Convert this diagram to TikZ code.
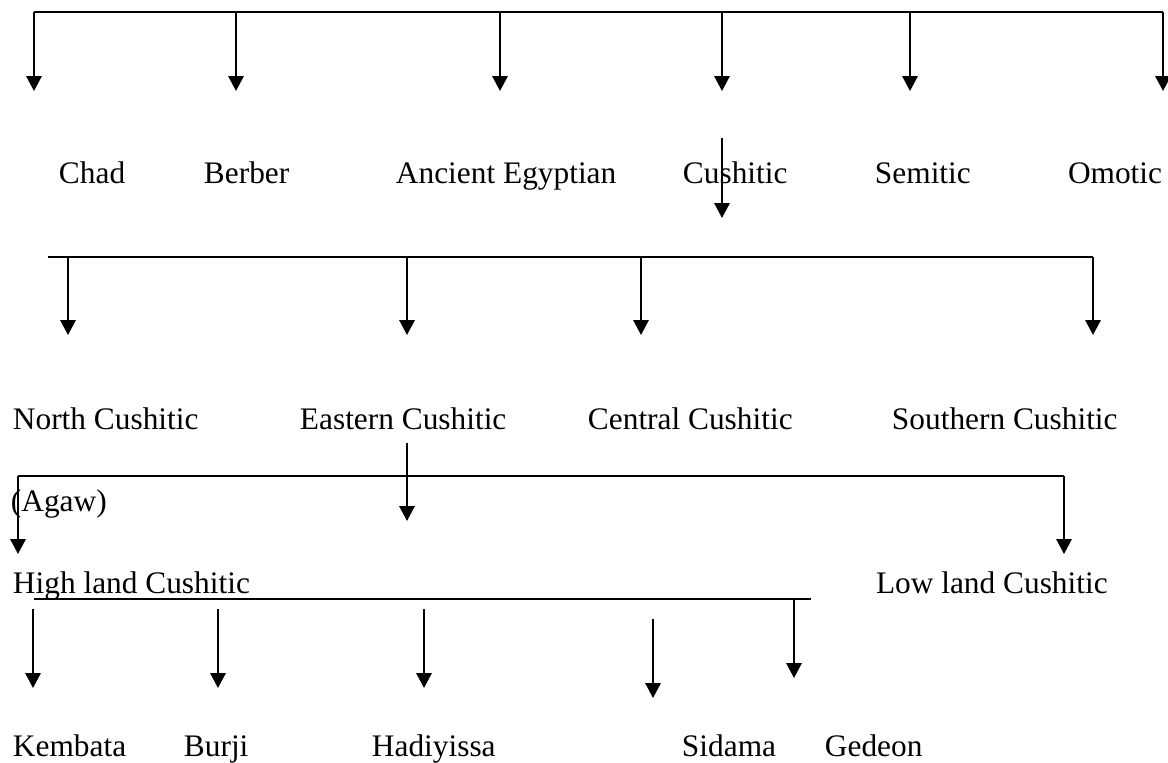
\documentclass[tikz,border=0pt]{standalone}
\usepackage{fontspec}
\setmainfont{Liberation Serif}
\usetikzlibrary{arrows.meta}

\begin{document}
\begin{tikzpicture}[x=0.025cm, y=-0.025cm, line width=1.4pt,
  lbl/.style={anchor=base west, inner sep=0pt, font=\fontsize{22.3}{26}\selectfont},
  arr/.style={-{Triangle[length=0.37cm,width=0.38cm]}}]
\useasboundingbox (0,0) rectangle (1168,762);

% first level
\node[lbl] (chad) at (58,183) {Chad};
\node[lbl] (berber) at (203,183) {Berber};
\node[lbl] (egypt) at (395,183) {Ancient Egyptian};
\node[lbl] (cush) at (682,183) {Cushitic};
\node[lbl] (semit) at (874,183) {Semitic};
\node[lbl] (omot) at (1067,183) {Omotic};

\coordinate (bar1w) at (34,12);
\coordinate (bar1e) at (1163,12);
\draw (bar1w) -- (bar1e);
\coordinate (chad-in) at (34,91);
\coordinate (berber-in) at (236,91);
\coordinate (egypt-in) at (500,91);
\coordinate (cush-in) at (722,91);
\coordinate (semit-in) at (910,91);
\coordinate (omot-in) at (1163,91);
\foreach \n in {chad,berber,egypt,cush,semit,omot}
  \draw[arr] (\n-in |- bar1w) -- (\n-in);

% cushitic branches
\coordinate (cush-out) at (722,138);
\coordinate (cush-down) at (722,218);
\draw[arr] (cush-out) -- (cush-down);

\node[lbl] (north) at (12,429) {North Cushitic};
\node[lbl] (agaw) at (10,511) {(Agaw)};
\node[lbl] (east) at (299,429) {Eastern Cushitic};
\node[lbl] (central) at (587,429) {Central Cushitic};
\node[lbl] (south) at (891,429) {Southern Cushitic};

\coordinate (bar2w) at (48,257);
\coordinate (bar2e) at (1093,257);
\draw (bar2w) -- (bar2e);
\coordinate (north-in) at (68,335);
\coordinate (east-in) at (407,335);
\coordinate (central-in) at (641,335);
\coordinate (south-in) at (1093,335);
\foreach \n in {north,east,central,south}
  \draw[arr] (\n-in |- bar2w) -- (\n-in);

% eastern cushitic
\coordinate (east-out) at (407,443);
\coordinate (east-down) at (407,521);
\draw[arr] (east-out) -- (east-down);

\node[lbl] (high) at (12,593) {High land Cushitic};
\node[lbl] (low) at (875,593) {Low land Cushitic};

\coordinate (bar3w) at (18,476);
\coordinate (bar3e) at (1064,476);
\draw (bar3w) -- (bar3e);
\coordinate (high-in) at (18,554);
\coordinate (low-in) at (1064,554);
\draw[arr] (bar3w) -- (high-in);
\draw[arr] (bar3e) -- (low-in);

% highland cushitic
\node[lbl] (kemb) at (12,756) {Kembata};
\node[lbl] (burji) at (183,756) {Burji};
\node[lbl] (hadi) at (371,756) {Hadiyissa};
\node[lbl] (sidama) at (681,756) {Sidama};
\node[lbl] (gede) at (824,756) {Gedeon};

\coordinate (bar4w) at (34,599);
\coordinate (bar4e) at (811,599);
\draw (bar4w) -- (bar4e);
\draw[arr] (33,609) coordinate (kemb-out) -- (33,688) coordinate (kemb-in);
\draw[arr] (218,609) coordinate (burji-out) -- (218,688) coordinate (burji-in);
\draw[arr] (424,609) coordinate (hadi-out) -- (424,688) coordinate (hadi-in);
\draw[arr] (653,619) coordinate (sidama-out) -- (653,698) coordinate (sidama-in);
\coordinate (gede-in) at (794,678);
\draw[arr] (gede-in |- bar4w) -- (gede-in);
\end{tikzpicture}
\end{document}
